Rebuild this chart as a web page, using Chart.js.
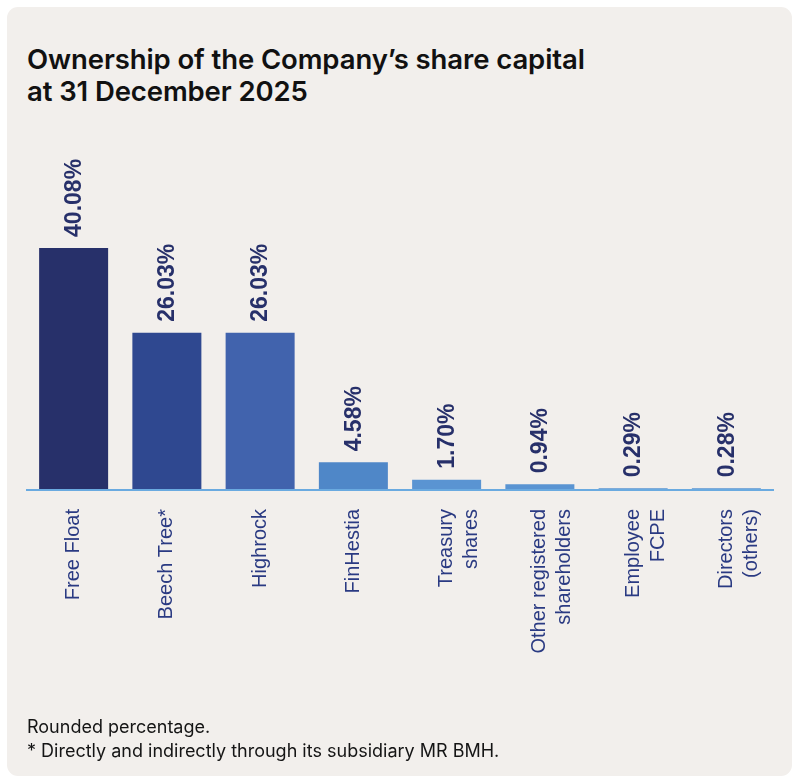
<!DOCTYPE html>
<html>
<head>
<meta charset="utf-8">
<script src="https://cdn.jsdelivr.net/npm/chart.js@4.4.1/dist/chart.umd.min.js"></script>
<style>
  body { margin: 0; background: #ffffff; width: 800px; height: 784px; position: relative; overflow: hidden; }
  .card { position: absolute; left: 7px; top: 7px; width: 785px; height: 769px; background: #f2efec; border-radius: 11px; }
  .title { position: absolute; left: 27px; top: 43px; font-family: Inter, sans-serif; font-weight: 600; font-size: 27.5px; line-height: 32px; color: #111111; letter-spacing: -0.1px; }
  .note { position: absolute; left: 27px; top: 715px; font-family: Inter, sans-serif; font-size: 18px; line-height: 24px; color: #151515; }
  #chart { position: absolute; left: 0; top: 0; }
</style>
</head>
<body>
<div class="card"></div>
<div class="title">Ownership of the Company’s share capital<br>at 31 December 2025</div>
<canvas id="chart" width="800" height="784"></canvas>
<div class="note">Rounded percentage.<br>* Directly and indirectly through its subsidiary MR BMH.</div>
<script>
const categories = [
  "Free Float",
  "Beech Tree*",
  "Highrock",
  "FinHestia",
  ["Treasury", "shares"],
  ["Other registered", "shareholders"],
  ["Employee", "FCPE"],
  ["Directors", "(others)"],
];
const shares = [40.08, 26.03, 26.03, 4.58, 1.7, 0.94, 0.29, 0.28];

const barColors = ["#27306a", "#2f4890", "#4163ad", "#4f87c8", "#5a94d2", "#5a94d2", "#5a94d2", "#5a94d2"];

// percentage written above each bar, turned to read upwards
const valueLabels = {
  id: "valueLabels",
  afterDatasetsDraw(chart) {
    const ctx = chart.ctx;
    const meta = chart.getDatasetMeta(0);
    ctx.save();
    ctx.font = "bold 23px 'Liberation Sans', Arial, sans-serif";
    ctx.fillStyle = "#27306a";
    ctx.textAlign = "left";
    ctx.textBaseline = "middle";
    meta.data.forEach((bar, i) => {
      ctx.save();
      ctx.translate(bar.x + 1, bar.y - 11);
      ctx.rotate(-Math.PI / 2);
      ctx.fillText(shares[i].toFixed(2) + "%", 0, 0);
      ctx.restore();
    });
    ctx.restore();
  },
};

new Chart(document.getElementById("chart"), {
  type: "bar",
  data: {
    labels: categories,
    datasets: [
      {
        data: shares,
        backgroundColor: barColors,
        borderWidth: 0,
        barPercentage: 0.74,
        categoryPercentage: 1,
      },
    ],
  },
  options: {
    responsive: false,
    animation: false,
    events: [],
    layout: { padding: { left: 27, right: 27, top: 188, bottom: 0 } },
    plugins: {
      legend: { display: false },
      tooltip: { enabled: false },
    },
    scales: {
      x: {
        grid: { display: false, drawTicks: false },
        border: { display: true, color: "#6aaae0", width: 2, z: 1 },
        ticks: {
          autoSkip: false,
          minRotation: 90,
          maxRotation: 90,
          padding: 19,
          color: "#2a3a82",
          font: { family: "'Liberation Sans', Arial, sans-serif", size: 20, lineHeight: 1.25 },
        },
        afterFit(scale) {
          scale.height = 294;
        },
      },
      y: {
        display: false,
        min: 0,
        max: 50,
      },
    },
  },
  plugins: [valueLabels],
});
</script>
</body>
</html>
